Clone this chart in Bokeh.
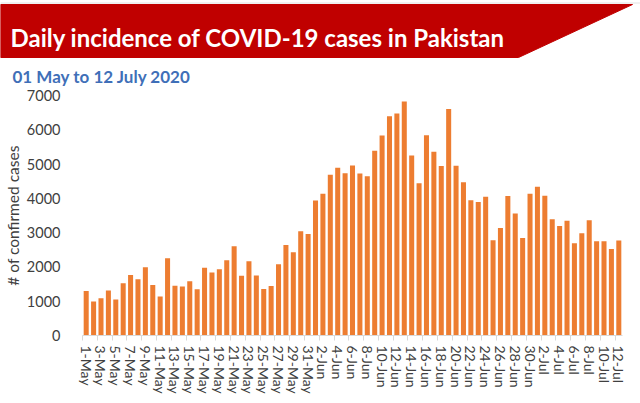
import math
from bokeh.plotting import figure
from bokeh.layouts import column
from bokeh.models import ColumnDataSource, Range1d, FixedTicker
from bokeh.core.properties import value
from bokeh.embed import file_html
from bokeh.resources import INLINE

# ---- data ----
days = ([f"{d}-May" for d in range(1, 32)] +
        [f"{d}-Jun" for d in range(1, 31)] +
        [f"{d}-Jul" for d in range(1, 13)])
cases = [1297, 989, 1083, 1315, 1049, 1523, 1764, 1637, 1991, 1476,
         1140, 2255, 1452, 1430, 1581, 1352, 1974, 1841, 1932, 2193,
         2603, 1743, 2164, 1748, 1356, 1446, 2076, 2636, 2429, 3039,
         2964,
         3938, 4132, 4688, 4896, 4734, 4960, 4728, 4646, 5385, 5834,
         6397, 6472, 6825, 5248, 4443, 5839, 5358, 4944, 6604, 4951,
         4471, 3946, 3892, 4044, 2775, 3138, 4072, 3557, 2846, 4133,
         4339, 4073, 3387, 3191, 3344, 2691, 2980, 3359, 2751, 2752,
         2521, 2769]
y_ticks = [0, 1000, 2000, 3000, 4000, 5000, 6000, 7000]
title_text = "Daily incidence of COVID-19 cases in Pakistan"
subtitle_text = "01 May to 12 July 2020"
y_label = "# of confirmed cases"

FONT = "Lato"
W = 640
HDR_H = 86
TOTAL_H = 403

# ---- header (banner + subtitle) ----
hdr = figure(width=W, height=HDR_H, x_range=Range1d(0, W), y_range=Range1d(HDR_H, 0),
             output_backend="svg", toolbar_location=None,
             min_border=0, x_axis_location=None, y_axis_location=None)
hdr.outline_line_color = None
hdr.grid.visible = False
hdr.line(x=[0, 640], y=[2.5, 2.5], line_color="#e2e2e2", line_width=1)
hdr.patch(x=[0, 632, 518, 0], y=[4, 4, 57, 57], fill_color="#C00000", line_color="#C00000")
hdr.text(x=[10], y=[37], text=[title_text], text_baseline="alphabetic",
         text_font=value(FONT), text_font_style="bold", text_font_size="24px",
         text_color="white")
hdr.text(x=[12], y=[75.5], text=[subtitle_text], text_baseline="alphabetic",
         text_font=value(FONT), text_font_style="bold", text_font_size="17px",
         text_color="#3F6FB8")

# ---- chart ----
idx = list(range(len(days)))
src = ColumnDataSource(dict(x=idx, top=cases, day=days))

p = figure(width=W, height=TOTAL_H - HDR_H,
           x_range=Range1d(-0.5, len(days) - 0.5), y_range=Range1d(0, 7000),
           output_backend="svg", toolbar_location=None,
           min_border_left=79, min_border_right=18, min_border_top=95 - HDR_H,
           min_border_bottom=68)
p.outline_line_color = None
p.grid.visible = False
p.vbar(x="x", top="top", width=0.68, source=src, fill_color="#ED7D31", line_color=None)

# x axis
p.xaxis.ticker = FixedTicker(ticks=idx[::2], minor_ticks=[i - 0.5 for i in range(0, len(days) + 1, 2)])
p.xaxis.major_label_overrides = {i: days[i] for i in idx[::2]}
p.xaxis.major_label_orientation = -math.pi / 2
p.xaxis.major_label_text_font = FONT
p.xaxis.major_label_text_font_size = "14px"
p.xaxis.major_label_text_color = "#404040"
p.xaxis.major_label_standoff = 4
p.xaxis.axis_line_color = "#d9d9d9"
p.xaxis.major_tick_line_color = None
p.xaxis.minor_tick_line_color = "#d9d9d9"
p.xaxis.minor_tick_in = 0
p.xaxis.minor_tick_out = 5

# y axis
p.yaxis.ticker = FixedTicker(ticks=y_ticks)
p.yaxis.axis_line_color = None
p.yaxis.major_tick_line_color = None
p.yaxis.minor_tick_line_color = None
p.yaxis.major_label_text_font = FONT
p.yaxis.major_label_text_font_size = "14.5px"
p.yaxis.major_label_text_color = "#404040"
p.yaxis.major_label_standoff = 16
p.yaxis.axis_label = y_label
p.yaxis.axis_label_text_font = FONT
p.yaxis.axis_label_text_font_style = "normal"
p.yaxis.axis_label_text_font_size = "15.5px"
p.yaxis.axis_label_text_color = "#404040"
p.yaxis.axis_label_standoff = 2

layout = column(column(hdr), column(p), spacing=0)
open("out.html", "w").write(file_html(layout, INLINE))
